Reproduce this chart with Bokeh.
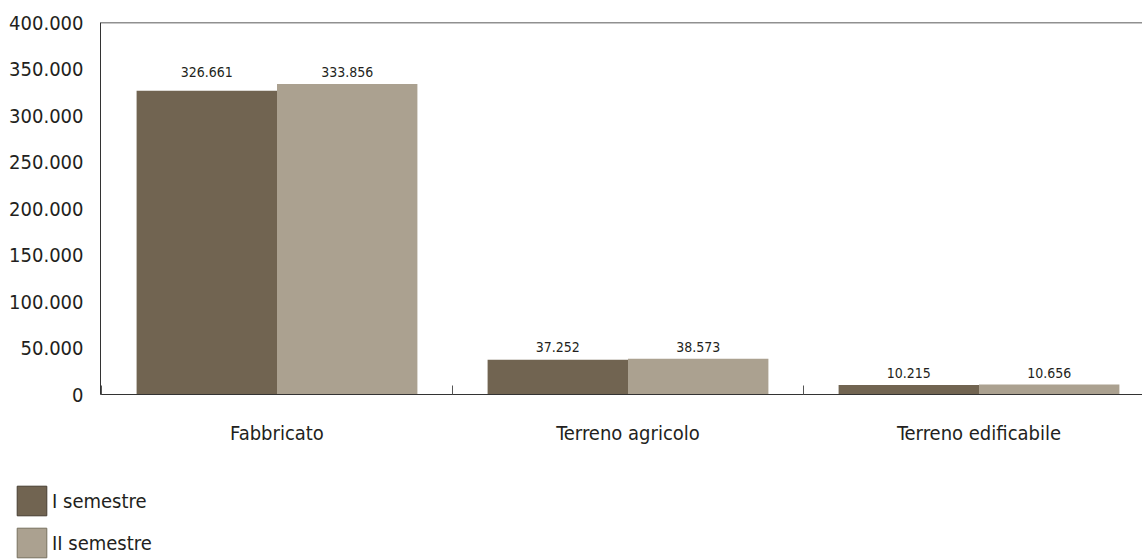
from bokeh.plotting import figure
from bokeh.models import (ColumnDataSource, Range1d, LinearAxis, FixedTicker,
                          Span, Legend, LegendItem, Grid)
from bokeh.layouts import column, row
from bokeh.core.properties import value
from bokeh.embed import file_html
from bokeh.resources import INLINE

categories = ["Fabbricato", "Terreno agricolo", "Terreno edificabile"]
series_names = ["I semestre", "II semestre"]
sem1 = [326661, 37252, 10215]
sem2 = [333856, 38573, 10656]
y_ticks = [0, 50000, 100000, 150000, 200000, 250000, 300000, 350000, 400000]
y_tick_labels = ["0", "50.000", "100.000", "150.000", "200.000", "250.000",
                 "300.000", "350.000", "400.000"]

FONT = "Liberation Sans Narrow, DejaVu Sans Condensed, sans-serif"
TXT = "#231f20"
DARK = "#716451"
LIGHT = "#aba190"


def fmt(v):
    return f"{v:,}".replace(",", ".")


p = figure(width=1142, height=470, output_backend="svg", toolbar_location=None,
           x_axis_type=None, y_axis_type=None,
           min_border_left=100, min_border_right=0, min_border_top=22,
           min_border_bottom=76)
p.x_range = Range1d(-1 / 351, 1041 / 351)
p.y_range = Range1d(0, 400000)
p.outline_line_color = None
p.background_fill_color = "white"
p.border_fill_color = "white"

centers = [i + 0.5 for i in range(len(categories))]
src1 = ColumnDataSource(dict(x=[c - 0.2 for c in centers], top=sem1))
src2 = ColumnDataSource(dict(x=[c + 0.2 for c in centers], top=sem2))

# grid lines
g = Grid(dimension=1, ticker=FixedTicker(ticks=y_ticks[1:-1], minor_ticks=[]),
         grid_line_color="#858585", grid_line_width=1)
p.add_layout(g)
p.add_layout(Span(location=y_ticks[-1], dimension="width", line_color="#222222", line_width=1.5))

p.vbar(x="x", top="top", bottom=0, width=0.4, source=src1, fill_color=DARK, line_color=None)
p.vbar(x="x", top="top", bottom=0, width=0.4, source=src2, fill_color=LIGHT, line_color=None)

# data labels (placed above the taller bar of each group)
gmax = [max(a, b) for a, b in zip(sem1, sem2)]
lab = ColumnDataSource(dict(
    x=[c - 0.2 for c in centers] + [c + 0.2 for c in centers],
    y=gmax + gmax,
    t=[fmt(v) for v in sem1] + [fmt(v) for v in sem2]))
p.text(x="x", y="y", text="t", source=lab, text_align="center", text_baseline="middle",
       y_offset=-12, text_font=value(FONT), text_font_size="14px", text_color=TXT)

# y axis
yax = LinearAxis(ticker=FixedTicker(ticks=y_ticks, minor_ticks=[]),
                 major_label_overrides={t: l for t, l in zip(y_ticks, y_tick_labels)})
yax.axis_line_color = "#333333"
yax.major_tick_line_color = None
yax.major_tick_out = 0
yax.major_tick_in = 0
yax.major_label_standoff = 17
yax.major_label_text_font = FONT
yax.major_label_text_font_size = "20px"
yax.major_label_text_color = TXT
p.add_layout(yax, "left")

# x axis: labels at group centres, separators as minor ticks
xl = LinearAxis(ticker=FixedTicker(ticks=centers, minor_ticks=[0, 1, 2, 3]),
                major_label_overrides={c: n for c, n in zip(centers, categories)})
xl.axis_line_color = "#333333"
xl.major_tick_line_color = None
xl.major_tick_in = 0
xl.major_tick_out = 0
xl.minor_tick_line_color = "#555555"
xl.minor_tick_in = 9
xl.minor_tick_out = 0
xl.major_label_standoff = 26
xl.major_label_text_font = FONT
xl.major_label_text_font_size = "20px"
xl.major_label_text_color = TXT
p.add_layout(xl, "below")

p.xgrid.visible = False
p.ygrid.visible = False

# legend figure (hidden copies of the bar renderers feed the legend)
lf = figure(width=300, height=89, output_backend="svg", toolbar_location=None,
            x_axis_type=None, y_axis_type=None, min_border=0,
            x_range=Range1d(0, 1), y_range=Range1d(0, 1))
lf.outline_line_color = None
lf.xgrid.visible = False
lf.ygrid.visible = False
r1 = lf.vbar(x="x", top="top", width=0.4, source=src1, fill_color=DARK,
             line_color="#463d31", visible=False)
r2 = lf.vbar(x="x", top="top", width=0.4, source=src2, fill_color=LIGHT,
             line_color="#77705f", visible=False)
legend = Legend(items=[LegendItem(label=series_names[0], renderers=[r1]),
                       LegendItem(label=series_names[1], renderers=[r2])],
                location=(13, -2), orientation="vertical",
                glyph_width=37, glyph_height=37, spacing=5, padding=0, margin=0,
                label_standoff=2, label_text_font=FONT, label_text_font_size="20px",
                label_text_color=TXT, border_line_color=None, background_fill_alpha=0,
                inactive_fill_alpha=0)
lf.add_layout(legend, "center")

layout = column(p, row(lf), spacing=0)
open("out.html", "w").write(file_html(layout, INLINE))
